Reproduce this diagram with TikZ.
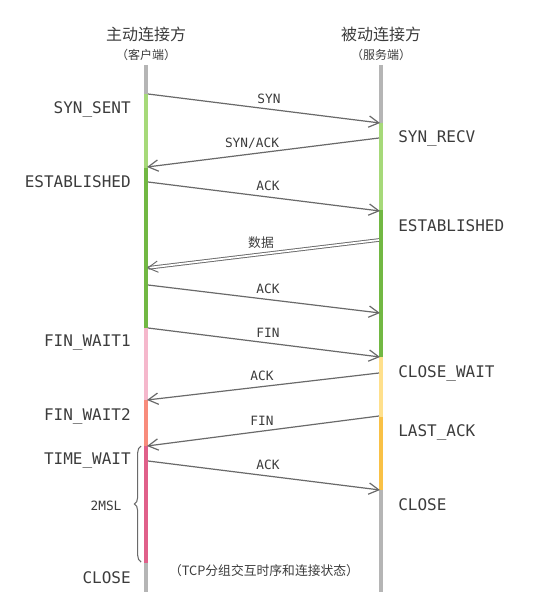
\documentclass[tikz,border=0pt]{standalone}
\usepackage{fontspec}
\usepackage{tikz}
\usetikzlibrary{arrows.meta,decorations.pathreplacing}
\newfontfamily\cjk{Noto Sans CJK SC}
\newfontfamily\monofont{DejaVu Sans Mono}

\definecolor{lgray}{HTML}{B5B5B5}
\definecolor{lgreen}{HTML}{A6D979}
\definecolor{dgreen}{HTML}{72B843}
\definecolor{lpink}{HTML}{F5B8CC}
\definecolor{salmon}{HTML}{F88C7C}
\definecolor{crimson}{HTML}{E0608A}
\definecolor{lyellow}{HTML}{FFE08C}
\definecolor{lorange}{HTML}{F9C146}
\definecolor{msggray}{HTML}{6A6A6A}
\definecolor{txtgray}{HTML}{3C3C3C}

\tikzset{
    lifeline/.style={line width=3pt},
    msg/.style={draw=msggray, line width=0.9pt, -{Straight Barb[length=7.5pt,width=8.5pt]}},
    state/.style={text=txtgray, font=\monofont\fontsize{12}{14}\selectfont, inner sep=0pt},
    msglabel/.style={text=txtgray, font=\monofont\fontsize{9.6}{11}\selectfont, inner sep=0pt},
    cjklabel/.style={text=txtgray, font=\cjk\fontsize{9.6}{11}\selectfont, inner sep=0pt}
}

\begin{document}
\begin{tikzpicture}[x=0.75pt,y=-0.75pt]
        \useasboundingbox (0,0) rectangle (532,598);

        % Draw headers
        \node[cjklabel, font=\cjk\fontsize{12}{14}\selectfont] (client) at (146,34) {主动连接方};
        \node[cjklabel, font=\cjk\fontsize{9}{10}\selectfont] (clientsub) at (146,55) {（客户端）};
        \node[cjklabel, font=\cjk\fontsize{12}{14}\selectfont] (server) at (381,34) {被动连接方};
        \node[cjklabel, font=\cjk\fontsize{9}{10}\selectfont] (serversub) at (381,55) {（服务端）};

        % Draw client line
        \foreach \a/\b/\c in {65/94/lgray, 94/168/lgreen, 168/328/dgreen, 328/400/lpink,
                             400/446/salmon, 446/563/crimson, 563/592/lgray}
            \draw[lifeline,\c] (146,\a) -- (146,\b);

        % Draw server line
        \foreach \a/\b/\c in {65/123/lgray, 123/210/lgreen, 210/357/dgreen, 357/417/lyellow,
                             417/490/lorange, 490/592/lgray}
            \draw[lifeline,\c] (381,\a) -- (381,\b);

        % Client states
        \node[state, anchor=east] (synsent) at (131,109) {SYN\_SENT};
        \node[state, anchor=east] (estabc) at (131,182) {ESTABLISHED};
        \node[state, anchor=east] (finwaitone) at (131,343) {FIN\_WAIT1};
        \node[state, anchor=east] (finwaittwo) at (131,416) {FIN\_WAIT2};
        \node[state, anchor=east] (timewait) at (131,461) {TIME\_WAIT};
        \node[state, anchor=east] (closec) at (131,578) {CLOSE};

        % Server states
        \node[state, anchor=west] (synrecv) at (398,138) {SYN\_RECV};
        \node[state, anchor=west] (estabs) at (398,226) {ESTABLISHED};
        \node[state, anchor=west] (closewait) at (398,373) {CLOSE\_WAIT};
        \node[state, anchor=west] (lastack) at (398,432) {LAST\_ACK};
        \node[state, anchor=west] (closes) at (398,505) {CLOSE};

        % Message end points
        \coordinate (c1) at (148,94);   \coordinate (s1) at (380,123);
        \coordinate (s2) at (379,138);  \coordinate (c2) at (147,167);
        \coordinate (c3) at (148,182);  \coordinate (s3) at (380,211);
        \coordinate (s4) at (379,240);  \coordinate (c4) at (147,268);
        \coordinate (c5) at (148,285);  \coordinate (s5) at (380,313);
        \coordinate (c6) at (148,328);  \coordinate (s6) at (380,357);
        \coordinate (s7) at (379,373);  \coordinate (c7) at (147,400);
        \coordinate (s8) at (379,416);  \coordinate (c8) at (147,446);
        \coordinate (c9) at (148,461);  \coordinate (s9) at (380,490);

        % Messages
        \draw[msg] (c1) -- (s1);
        \draw[msg] (s2) -- (c2);
        \draw[msg] (c3) -- (s3);
        \draw[msg, double=white, double distance=1.3pt, line width=0.7pt] (s4) -- (c4);
        \draw[msg] (c5) -- (s5);
        \draw[msg] (c6) -- (s6);
        \draw[msg] (s7) -- (c7);
        \draw[msg] (s8) -- (c8);
        \draw[msg] (c9) -- (s9);

        % Message labels
        \node[msglabel] (lsyn) at (269,99) {SYN};
        \node[msglabel] (lsynack) at (252,143) {SYN/ACK};
        \node[msglabel] (lackone) at (268,186) {ACK};
        \node[cjklabel] (ldata) at (261,243) {数据};
        \node[msglabel] (lacktwo) at (268,289) {ACK};
        \node[msglabel] (lfinone) at (268,333) {FIN};
        \node[msglabel] (lackthree) at (262,376) {ACK};
        \node[msglabel] (lfintwo) at (262,421) {FIN};
        \node[msglabel] (lackfour) at (268,465) {ACK};

        % 2MSL brace
        \draw[msggray, line width=0.8pt, decorate, decoration={brace, amplitude=5pt}]
            (141,562) -- (141,446);
        \node[msglabel] (msl) at (106,506) {2MSL};

        % Caption
        \node[cjklabel] (caption) at (264,571) {（TCP分组交互时序和连接状态）};
    \end{tikzpicture}
\end{document}
